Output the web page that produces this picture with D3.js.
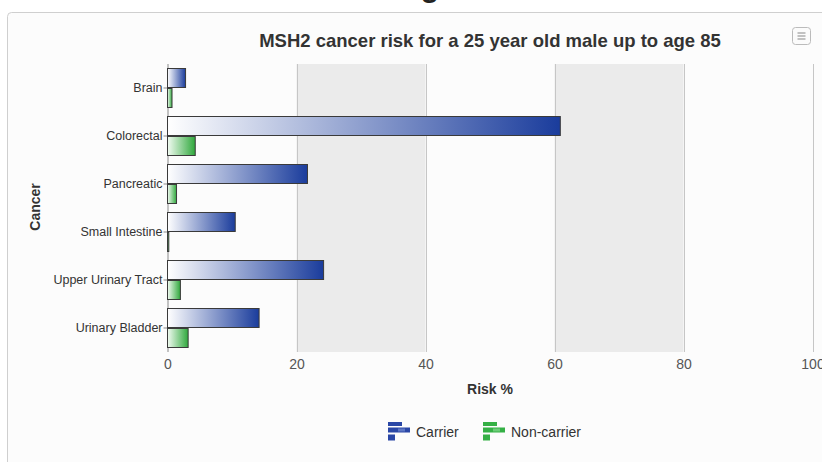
<!DOCTYPE html>
<html>
<head>
<meta charset="utf-8">
<script src="https://cdn.jsdelivr.net/npm/d3@7"></script>
<style>
  html, body { margin: 0; padding: 0; background: #ffffff; }
  svg { display: block; font-family: "Liberation Sans", Arial, sans-serif; }
</style>
</head>
<body>
<svg id="chart" width="822" height="462"></svg>
<script>
// Lifetime risk (%) by cancer site, MSH2 carriers vs non-carriers
const categories = ["Brain", "Colorectal", "Pancreatic", "Small Intestine", "Upper Urinary Tract", "Urinary Bladder"];
const seriesNames = ["Carrier", "Non-carrier"];
const carrier = [2.8, 60.9, 21.7, 10.5, 24.2, 14.2];
const nonCarrier = [0.7, 4.3, 1.4, 0.2, 2.0, 3.2];
const xTicks = [0, 20, 40, 60, 80, 100];
const bands = [[20, 40], [60, 80]];

const svg = d3.select("#chart");
const W = 822, H = 462;
const plot = { left: 167.5, right: 812.5, top: 64, bottom: 352 };

const x = d3.scaleLinear().domain([0, 100]).range([plot.left, plot.right]);
const y = d3.scaleBand().domain(categories).range([plot.top, plot.bottom]);
const sub = d3.scaleBand().domain(seriesNames).range([0, y.bandwidth()]).paddingInner(0).paddingOuter(0.2);

// gradients
const defs = svg.append("defs");
function grad(id, c0, c1) {
  const g = defs.append("linearGradient").attr("id", id)
    .attr("x1", "0%").attr("y1", "0%").attr("x2", "100%").attr("y2", "0%");
  g.append("stop").attr("offset", "0%").attr("stop-color", c0);
  g.append("stop").attr("offset", "100%").attr("stop-color", c1);
}
grad("gCarrier", "#ffffff", "#1a3c9c");
grad("gNon", "#f2fbf2", "#2fa83c");

// container
svg.append("rect").attr("width", W).attr("height", H).attr("fill", "#ffffff");
svg.append("rect").attr("x", 7.5).attr("y", 12.5).attr("width", W + 20).attr("height", H + 20)
  .attr("rx", 4).attr("fill", "#fcfcfc").attr("stroke", "#cfcfcf").attr("stroke-width", 1);

// heading glyph peeking above the frame
svg.append("text").attr("x", 430).attr("y", -3).attr("text-anchor", "middle")
  .attr("font-size", 30).attr("font-weight", "bold").attr("fill", "#222").text("g");

// title
svg.append("text").attr("x", 490).attr("y", 46.5).attr("text-anchor", "middle")
  .attr("font-size", 18.5).attr("font-weight", "bold").attr("fill", "#333")
  .text("MSH2 cancer risk for a 25 year old male up to age 85");

// menu button
const menu = svg.append("g").attr("transform", "translate(792.5,27.5)");
menu.append("rect").attr("width", 18).attr("height", 17).attr("rx", 3)
  .attr("fill", "#fbfbfb").attr("stroke", "#bbbbbb");
[5.5, 8.5, 11.5].forEach(v => menu.append("line").attr("x1", 5).attr("x2", 13)
  .attr("y1", v).attr("y2", v).attr("stroke", "#9a9a9a").attr("stroke-width", 1.2));

// plot bands
svg.append("g").selectAll("rect").data(bands).join("rect")
  .attr("x", d => x(d[0])).attr("width", d => x(d[1]) - x(d[0]))
  .attr("y", plot.top).attr("height", plot.bottom - plot.top)
  .attr("fill", "#ebebeb");

// grid lines
svg.append("g").selectAll("line").data(xTicks.filter(t => t > 0)).join("line")
  .attr("x1", d => Math.round(x(d)) + 0.5).attr("x2", d => Math.round(x(d)) + 0.5)
  .attr("y1", plot.top).attr("y2", plot.bottom)
  .attr("stroke", "#c6c6c6").attr("stroke-width", 1);

// x axis labels
const xAxis = d3.axisBottom(x).tickValues(xTicks).tickSize(0).tickPadding(0).tickFormat(d3.format("d"));
const gx = svg.append("g").attr("transform", `translate(0,${plot.bottom + 7})`).call(xAxis);
gx.select(".domain").remove();
gx.selectAll("text").attr("font-size", 14).attr("fill", "#555").attr("font-family", "Liberation Sans, Arial, sans-serif");

// y axis
const yAxis = d3.axisLeft(y).tickSize(4).tickPadding(1);
const gy = svg.append("g").attr("transform", `translate(${plot.left},0)`).call(yAxis);
gy.select(".domain").attr("stroke", "#8a8a8a").attr("d", `M0.5,${plot.top}V${plot.bottom}`);
gy.selectAll(".tick line").attr("stroke", "#8a8a8a");
gy.selectAll("text").attr("font-size", 12.5).attr("fill", "#333").attr("font-family", "Liberation Sans, Arial, sans-serif");

// bars
const rows = categories.map((c, i) => ({ cat: c, vals: [carrier[i], nonCarrier[i]] }));
const grp = svg.append("g").selectAll("g").data(rows).join("g")
  .attr("transform", d => `translate(0,${y(d.cat)})`);
grp.selectAll("rect").data(d => d.vals.map((v, j) => ({ v, s: seriesNames[j] }))).join("rect")
  .attr("x", x(0))
  .attr("y", d => sub(d.s) + 0.5)
  .attr("width", d => Math.max(0, x(d.v) - x(0)))
  .attr("height", sub.bandwidth() - 1)
  .attr("fill", d => d.s === "Carrier" ? "url(#gCarrier)" : "url(#gNon)")
  .attr("stroke", "#3a3a3a").attr("stroke-width", 1);

// axis titles
svg.append("text").attr("x", 490).attr("y", 394).attr("text-anchor", "middle")
  .attr("font-size", 14).attr("font-weight", "bold").attr("fill", "#333").text("Risk %");
svg.append("text").attr("transform", "translate(40,207) rotate(-90)").attr("text-anchor", "middle")
  .attr("font-size", 14).attr("font-weight", "bold").attr("fill", "#333").text("Cancer");

// legend
const legendColors = { "Carrier": ["#2a47a6", "#5c76c4"], "Non-carrier": ["#35b045", "#6ccc78"] };
const legendX = [388, 483];
seriesNames.forEach((s, i) => {
  const g = svg.append("g").attr("transform", `translate(${legendX[i]},422)`);
  const [c, cl] = legendColors[s];
  g.append("rect").attr("x", 0).attr("y", 0).attr("width", 14).attr("height", 4).attr("fill", c);
  g.append("rect").attr("x", 0).attr("y", 5.5).attr("width", 22).attr("height", 5).attr("fill", c);
  g.append("rect").attr("x", 10).attr("y", 6.5).attr("width", 7).attr("height", 3).attr("fill", cl);
  g.append("rect").attr("x", 0).attr("y", 12.5).attr("width", 7).attr("height", 6).attr("fill", c);
  g.append("text").attr("x", 28).attr("y", 15).attr("font-size", 14).attr("fill", "#333").text(s);
});
</script>
</body>
</html>
